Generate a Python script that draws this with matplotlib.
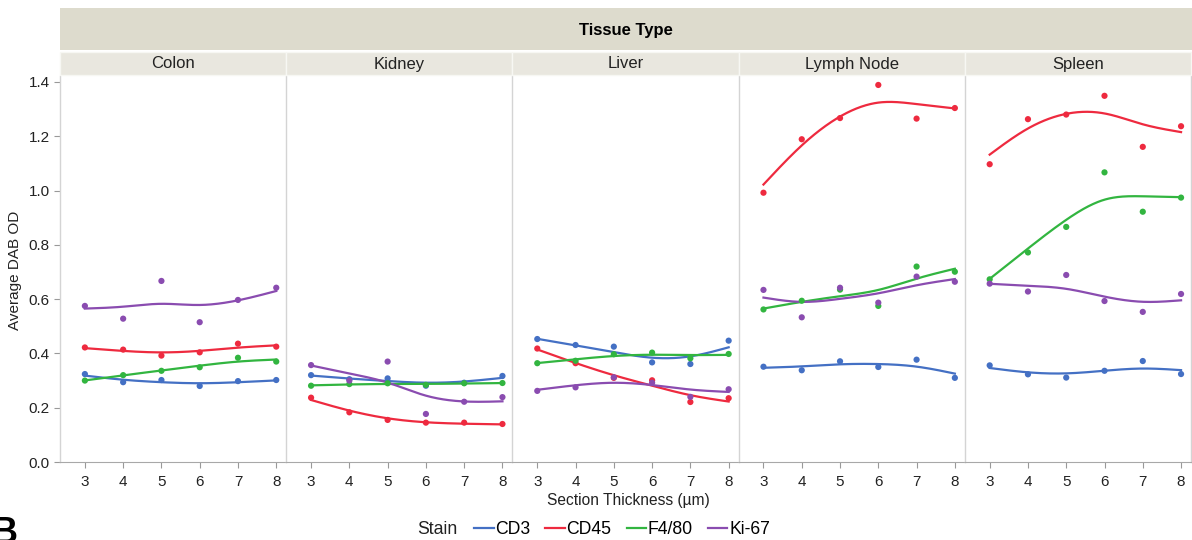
import numpy as np
import matplotlib
matplotlib.use("Agg")
import matplotlib.pyplot as plt
from matplotlib.lines import Line2D
from matplotlib.patches import Rectangle

plt.rcParams['font.family'] = ['Liberation Sans Narrow', 'Liberation Sans', 'DejaVu Sans']

tissues = ["Colon", "Kidney", "Liver", "Lymph Node", "Spleen"]
stains = ["CD3", "CD45", "F4/80", "Ki-67"]
thickness = [3, 4, 5, 6, 7, 8]
colors = {"CD3": "#4470c4", "CD45": "#ee2a3f", "F4/80": "#32b540", "Ki-67": "#8a4cb0"}

colon_cd3 = [0.324, 0.294, 0.302, 0.280, 0.298, 0.302]
colon_cd45 = [0.422, 0.414, 0.392, 0.404, 0.436, 0.425]
colon_f480 = [0.300, 0.320, 0.336, 0.349, 0.384, 0.370]
colon_ki67 = [0.575, 0.528, 0.667, 0.515, 0.597, 0.642]

kidney_cd3 = [0.320, 0.305, 0.308, 0.281, 0.292, 0.317]
kidney_cd45 = [0.237, 0.183, 0.155, 0.145, 0.145, 0.140]
kidney_f480 = [0.281, 0.287, 0.290, 0.284, 0.290, 0.291]
kidney_ki67 = [0.357, 0.300, 0.370, 0.177, 0.222, 0.239]

liver_cd3 = [0.453, 0.431, 0.425, 0.367, 0.361, 0.447]
liver_cd45 = [0.418, 0.364, 0.310, 0.301, 0.221, 0.235]
liver_f480 = [0.364, 0.373, 0.397, 0.403, 0.382, 0.398]
liver_ki67 = [0.262, 0.275, 0.312, 0.292, 0.240, 0.268]

lymph_cd3 = [0.351, 0.338, 0.371, 0.350, 0.377, 0.310]
lymph_cd45 = [0.992, 1.189, 1.267, 1.389, 1.265, 1.304]
lymph_f480 = [0.562, 0.594, 0.635, 0.575, 0.720, 0.701]
lymph_ki67 = [0.634, 0.533, 0.642, 0.587, 0.683, 0.664]

spleen_cd3 = [0.356, 0.323, 0.311, 0.336, 0.372, 0.324]
spleen_cd45 = [1.097, 1.263, 1.280, 1.349, 1.161, 1.237]
spleen_f480 = [0.673, 0.772, 0.866, 1.067, 0.922, 0.974]
spleen_ki67 = [0.657, 0.628, 0.689, 0.593, 0.553, 0.619]

data = {
    "Colon": [colon_cd3, colon_cd45, colon_f480, colon_ki67],
    "Kidney": [kidney_cd3, kidney_cd45, kidney_f480, kidney_ki67],
    "Liver": [liver_cd3, liver_cd45, liver_f480, liver_ki67],
    "Lymph Node": [lymph_cd3, lymph_cd45, lymph_f480, lymph_ki67],
    "Spleen": [spleen_cd3, spleen_cd45, spleen_f480, spleen_ki67],
}


def smoothing_spline(x, y, lam=0.7, n=201):
    x = np.asarray(x, float)
    y = np.asarray(y, float)
    grid = np.linspace(x.min(), x.max(), n)
    h = grid[1] - grid[0]
    B = np.zeros((len(x), n))
    for i, xv in enumerate(x):
        j = int(round((xv - grid[0]) / h))
        B[i, j] = 1.0
    D = np.zeros((n - 2, n))
    for k in range(n - 2):
        D[k, k:k + 3] = [1, -2, 1]
    D /= h ** 2
    A = B.T @ B + lam * h * D.T @ D
    f = np.linalg.solve(A, B.T @ y)
    return grid, f


W, H = 1192, 540
fig = plt.figure(figsize=(W / 100, H / 100), dpi=100)

left_px, right_px = 60, 1191
top_px, bot_px = 76, 462
pw = (right_px - left_px) / len(tissues)

# header band
fig.patches.append(Rectangle((left_px / W, 1 - 50 / H), (W - left_px) / W, 42 / H,
                             transform=fig.transFigure, facecolor="#dddbcd", edgecolor="none", zorder=0))
fig.text((left_px + W) / 2 / W, 1 - 30 / H, "Tissue Type", ha="center", va="center",
         fontsize=12, fontweight="bold", family=['Liberation Sans', 'DejaVu Sans'])

axes = []
for i, t in enumerate(tissues):
    x0 = left_px + i * pw
    ax = fig.add_axes([x0 / W, 1 - bot_px / H, pw / W, (bot_px - top_px) / H])
    axes.append(ax)
    # strip
    fig.patches.append(Rectangle((x0 / W, 1 - 75 / H), pw / W, 23 / H, transform=fig.transFigure,
                                 facecolor="#e9e7df", edgecolor="#f7f7f3", lw=1.0, zorder=0))
    fig.text((x0 + pw / 2) / W, 1 - 64 / H, t, ha="center", va="center", fontsize=12,
             family=['Liberation Sans', 'DejaVu Sans'], color="#222222")
    for s, vals in zip(stains, data[t]):
        gx, gy = smoothing_spline(thickness, vals)
        ax.plot(gx, gy, color=colors[s], lw=1.6, zorder=3)
        ax.scatter(thickness, vals, s=20, color=colors[s], edgecolors="none", zorder=4)
    ax.set_xlim(2.35, 8.26)
    ax.set_ylim(0, 1.422)
    ax.set_xticks(thickness)
    ax.set_xticklabels([str(v) for v in thickness], fontsize=11)
    ax.set_yticks([0, 0.2, 0.4, 0.6, 0.8, 1.0, 1.2, 1.4])
    ax.tick_params(axis="x", length=4, color="#999999", pad=5, labelcolor="#222222")
    if i == 0:
        ax.set_yticklabels(["0.0", "0.2", "0.4", "0.6", "0.8", "1.0", "1.2", "1.4"], fontsize=11)
        ax.tick_params(axis="y", length=4, color="#999999", labelcolor="#222222")
    else:
        ax.tick_params(axis="y", length=0, labelleft=False)
    for side in ["left", "right", "top"]:
        ax.spines[side].set_color("#d4d4d4")
        ax.spines[side].set_linewidth(1.0)
    ax.spines["top"].set_visible(False)
    ax.spines["right"].set_visible(i == len(tissues) - 1)
    ax.spines["bottom"].set_color("#a8a8a8")
    ax.set_facecolor("white")

fig.text(628 / W, 1 - 500 / H, "Section Thickness (\u00b5m)", ha="center", va="center",
         fontsize=11.2, color="#222222")
fig.text(15 / W, 1 - 270 / H, "Average DAB OD", rotation=90, ha="center", va="center",
         fontsize=11, color="#222222")

handles = [Line2D([0], [0], color=colors[s], lw=1.6) for s in stains]
fig.legend(handles, stains, loc="center", bbox_to_anchor=(622 / W, 1 - 530 / H), ncol=4,
           frameon=False, fontsize=12.7, handlelength=1.1, handletextpad=0.1, columnspacing=0.85,
           borderpad=0, borderaxespad=0)
fig.text(417 / W, 1 - 530 / H, "Stain", ha="left", va="center", fontsize=12.7, color="#222222")

fig.text(-8 / W, -3 / H, "B", ha="left", va="baseline", fontsize=26, fontweight="bold",
         family=['Liberation Sans', 'DejaVu Sans'])

fig.savefig("out.png", dpi=100)
